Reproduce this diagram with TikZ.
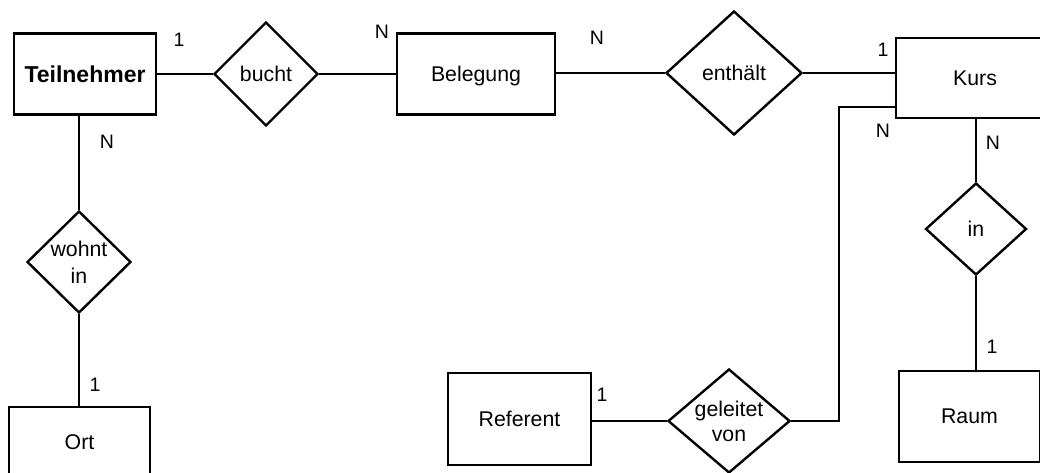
\documentclass[tikz,border=0pt]{standalone}
\usepackage{fontspec}
\setmainfont{Liberation Sans}
\usetikzlibrary{shapes.geometric}
\begin{document}
\begin{tikzpicture}[x=1pt,y=-1pt,
  every node/.style={font=\fontsize{21.3}{26}\selectfont},
  entity/.style={draw, line width=2.4pt, rectangle, inner sep=0pt, text depth=0pt},
  rel/.style={draw, line width=2.4pt, diamond, inner sep=-14pt, align=center},
  card/.style={inner sep=0pt, font=\fontsize{19.5}{21}\selectfont},
  conn/.style={line width=2.4pt}]
\useasboundingbox (0,0) rectangle (1040,473);
% entities
\node[entity, minimum width=142pt, minimum height=81pt, font=\fontsize{23}{26}\selectfont\bfseries] (teil) at (85,74) {Teilnehmer};
\node[entity, minimum width=158pt, minimum height=81pt] (beleg) at (476,74) {Belegung};
\node[entity, minimum width=158pt, minimum height=80pt] (kurs) at (975,78) {Kurs};
\node[entity, minimum width=141pt, minimum height=91pt] (raum) at (969.5,416.5) {Raum};
\node[entity, minimum width=141pt, minimum height=70pt] (ort) at (79.5,442) {Ort};
\node[entity, minimum width=143pt, minimum height=92pt] (ref) at (519.5,419) {Referent};
% relationships
\node[rel, minimum width=104pt, minimum height=104pt, text depth=0pt] (bucht) at (266,74) {bucht};
\node[rel, minimum width=136pt, minimum height=124pt, text depth=0pt] (enth) at (734,73) {enthält};
\node[rel, minimum width=101pt, minimum height=92pt, text depth=0pt] (in) at (976,229) {in};
\node[rel, minimum width=104pt, minimum height=102pt, font=\fontsize{21.3}{27}\selectfont] (wohnt) at (79,262) {wohnt\\in};
\node[rel, minimum width=122pt, minimum height=104pt, font=\fontsize{21.3}{25}\selectfont] (geleitet) at (729,421) {geleitet\\von};
% connectors
\draw[conn] (teil) -- (bucht);
\draw[conn] (bucht) -- (beleg);
\draw[conn] (beleg.east |- enth.west) -- (enth.west);
\draw[conn] (enth.east) -- (enth.east -| kurs.west);
\draw[conn] (in.north |- kurs.south) -- (in.north);
\draw[conn] (in.south) -- (in.south |- raum.north);
\draw[conn] (wohnt.north |- teil.south) -- (wohnt.north);
\draw[conn] (wohnt.south) -- (wohnt.south |- ort.north);
\draw[conn] (geleitet.west -| ref.east) -- (geleitet.west);
\coordinate (bend) at (839,107);
\draw[conn] (geleitet.east) -| (bend) -- (bend -| kurs.west);
% cardinalities
\node[card] (c1) at (179,40) {1};
\node[card] (c2) at (382,32) {N};
\node[card] (c3) at (597,38) {N};
\node[card] (c4) at (883,50) {1};
\node[card] (c5) at (883,131) {N};
\node[card] (c6) at (993,143) {N};
\node[card] (c7) at (992,347) {1};
\node[card] (c8) at (107,142) {N};
\node[card] (c9) at (95,385) {1};
\node[card] (c10) at (602,395) {1};
\end{tikzpicture}
\end{document}
